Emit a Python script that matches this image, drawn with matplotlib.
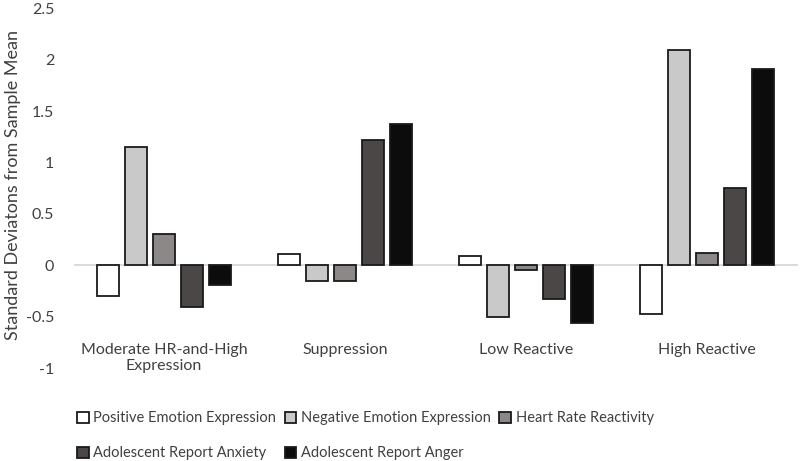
import numpy as np
import matplotlib.pyplot as plt
from matplotlib.patches import Patch

# Cluster profiles (standard deviations from sample mean)
groups = ['Moderate HR-and-High\nExpression', 'Suppression', 'Low Reactive', 'High Reactive']
series = ['Positive Emotion Expression', 'Negative Emotion Expression', 'Heart Rate Reactivity',
          'Adolescent Report Anxiety', 'Adolescent Report Anger']
positive = [-0.30, 0.11, 0.09, -0.47]
negative = [1.15, -0.15, -0.50, 2.09]
heart_rate = [0.31, -0.15, -0.04, 0.12]
anxiety = [-0.40, 1.22, -0.33, 0.75]
anger = [-0.19, 1.37, -0.56, 1.91]
values = [positive, negative, heart_rate, anxiety, anger]
colors = ['#ffffff', '#c9c9c9', '#8c8888', '#4b4746', '#0c0c0c']

plt.rcParams['font.family'] = ['Lato', 'DejaVu Sans']

fig = plt.figure(figsize=(8, 4.61), dpi=100)
ax = fig.add_axes([0.092, 0.2007, 0.905, 0.7819])

x = np.arange(len(groups))
step = 0.155
width = 0.124
for i, (vals, col) in enumerate(zip(values, colors)):
    ax.bar(x + (i - 2) * step, vals, width, color=col, edgecolor='#1a1a1a',
           linewidth=1.3, zorder=3)

ax.axhline(0, color='#d4d4d4', linewidth=1.2, zorder=2)
ax.set_xlim(-0.5, 3.5)
ax.set_ylim(-1, 2.5)
ax.set_yticks(np.arange(-1, 2.51, 0.5))
ax.set_yticklabels(['-1', '-0.5', '0', '0.5', '1', '1.5', '2', '2.5'])
ax.tick_params(axis='y', length=0, labelsize=11.5, labelcolor='#404040', pad=14)
ax.set_xticks([])
for s in ax.spines.values():
    s.set_visible(False)

for i, g in enumerate(groups):
    ax.text(x[i], -0.75, g, ha='center', va='top', fontsize=11.5, color='#404040',
            linespacing=1.25)

fig.text(13 / 800, 1 - 185 / 461, 'Standard Deviatons from Sample Mean', rotation=90,
         ha='center', va='center', fontsize=13, color='#404040')

handles = [Patch(facecolor=c, edgecolor='#1a1a1a', linewidth=1.3) for c in colors]
order = [0, 3, 1, 4, 2]
fig.legend([handles[k] for k in order], [series[k] for k in order], ncol=3,
           loc='lower left', bbox_to_anchor=(0.08, -0.027), frameon=False,
           fontsize=10.5, labelcolor='#404040', handlelength=0.8, handleheight=0.8,
           handletextpad=0.3, columnspacing=0.6, labelspacing=1.45)

fig.savefig('out.png', dpi=100)
